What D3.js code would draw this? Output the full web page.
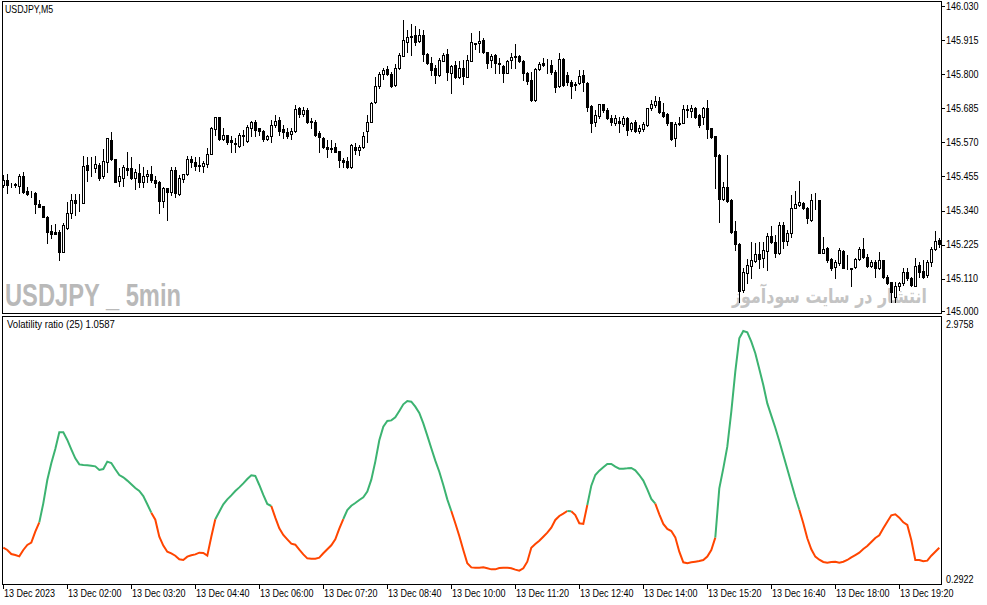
<!DOCTYPE html>
<html>
<head>
<meta charset="utf-8">
<script src="https://cdn.jsdelivr.net/npm/d3@7"></script>
<style>
  body { margin: 0; background: #fff; }
  svg { display: block; }
</style>
</head>
<body>
<svg id="chart"></svg>
<script>
// USDJPY M5 candles, 13 Dec 2023 00:40 .. 20:10
const open = [
  145.427, 145.443, 145.427, 145.426, 145.424, 145.455, 145.406, 145.396, 145.401, 145.362,
  145.356, 145.319, 145.271, 145.268, 145.269, 145.202, 145.280, 145.331, 145.376, 145.369,
  145.367, 145.494, 145.482, 145.483, 145.494, 145.455, 145.505, 145.578, 145.514, 145.440,
  145.451, 145.485, 145.485, 145.449, 145.468, 145.438, 145.455, 145.464, 145.443, 145.438,
  145.374, 145.415, 145.402, 145.477, 145.396, 145.446, 145.464, 145.514, 145.505, 145.493,
  145.492, 145.497, 145.531, 145.614, 145.655, 145.580, 145.595, 145.578, 145.569, 145.559,
  145.592, 145.575, 145.620, 145.638, 145.618, 145.610, 145.582, 145.590, 145.627, 145.646,
  145.616, 145.604, 145.598, 145.607, 145.685, 145.665, 145.680, 145.643, 145.640, 145.601,
  145.586, 145.553, 145.549, 145.553, 145.541, 145.511, 145.508, 145.488, 145.554, 145.545,
  145.553, 145.607, 145.640, 145.705, 145.761, 145.800, 145.817, 145.801, 145.762, 145.820,
  145.863, 145.910, 145.926, 145.933, 145.913, 145.933, 145.867, 145.837, 145.822, 145.798,
  145.846, 145.867, 145.803, 145.831, 145.789, 145.822, 145.792, 145.846, 145.904, 145.904,
  145.915, 145.874, 145.848, 145.865, 145.837, 145.828, 145.805, 145.847, 145.859, 145.861,
  145.845, 145.803, 145.780, 145.713, 145.818, 145.837, 145.830, 145.831, 145.809, 145.760,
  145.851, 145.797, 145.775, 145.765, 145.771, 145.797, 145.771, 145.693, 145.638, 145.660,
  145.698, 145.679, 145.651, 145.637, 145.643, 145.631, 145.651, 145.614, 145.640, 145.609,
  145.614, 145.629, 145.685, 145.696, 145.710, 145.671, 145.665, 145.638, 145.584, 145.631,
  145.637, 145.679, 145.676, 145.685, 145.662, 145.657, 145.685, 145.618, 145.592, 145.528,
  145.378, 145.421, 145.376, 145.271, 145.226, 145.072, 145.129, 145.154, 145.171, 145.193,
  145.179, 145.205, 145.254, 145.235, 145.198, 145.292, 145.239, 145.263, 145.350, 145.359,
  145.365, 145.350, 145.308, 145.373, 145.376, 145.198, 145.213, 145.176, 145.149, 145.162,
  145.205, 145.145, 145.145, 145.151, 145.177, 145.209, 145.185, 145.154, 145.168, 145.145,
  145.174, 145.117, 145.100, 145.050, 145.084, 145.095, 145.132, 145.112, 145.087, 145.157,
  145.136, 145.123, 145.168, 145.211, 145.241
];
const high = [
  145.460, 145.462, 145.432, 145.432, 145.462, 145.469, 145.421, 145.406, 145.404, 145.376,
  145.356, 145.323, 145.292, 145.294, 145.275, 145.297, 145.370, 145.395, 145.395, 145.395,
  145.524, 145.522, 145.522, 145.524, 145.500, 145.548, 145.586, 145.604, 145.514, 145.483,
  145.494, 145.537, 145.521, 145.480, 145.496, 145.488, 145.477, 145.491, 145.455, 145.440,
  145.420, 145.415, 145.488, 145.488, 145.460, 145.464, 145.524, 145.525, 145.521, 145.522,
  145.507, 145.550, 145.623, 145.655, 145.655, 145.618, 145.595, 145.590, 145.584, 145.601,
  145.612, 145.629, 145.643, 145.646, 145.618, 145.612, 145.595, 145.646, 145.663, 145.657,
  145.629, 145.618, 145.618, 145.696, 145.690, 145.691, 145.685, 145.651, 145.646, 145.609,
  145.587, 145.578, 145.578, 145.567, 145.541, 145.517, 145.522, 145.564, 145.567, 145.562,
  145.604, 145.663, 145.705, 145.792, 145.807, 145.820, 145.826, 145.807, 145.834, 145.871,
  145.983, 145.949, 145.969, 145.961, 145.953, 145.949, 145.871, 145.859, 145.831, 145.854,
  145.871, 145.885, 145.831, 145.843, 145.843, 145.848, 145.865, 145.938, 145.905, 145.946,
  145.921, 145.876, 145.867, 145.867, 145.856, 145.831, 145.848, 145.870, 145.901, 145.865,
  145.848, 145.809, 145.809, 145.822, 145.840, 145.854, 145.850, 145.848, 145.814, 145.870,
  145.854, 145.809, 145.780, 145.775, 145.814, 145.814, 145.775, 145.696, 145.679, 145.700,
  145.700, 145.685, 145.662, 145.662, 145.657, 145.660, 145.657, 145.640, 145.646, 145.629,
  145.640, 145.687, 145.713, 145.727, 145.724, 145.702, 145.670, 145.640, 145.640, 145.657,
  145.696, 145.696, 145.696, 145.691, 145.665, 145.691, 145.713, 145.620, 145.593, 145.530,
  145.438, 145.528, 145.378, 145.305, 145.230, 145.148, 145.177, 145.235, 145.230, 145.235,
  145.235, 145.263, 145.289, 145.258, 145.303, 145.303, 145.275, 145.393, 145.406, 145.440,
  145.370, 145.353, 145.395, 145.398, 145.376, 145.252, 145.218, 145.181, 145.174, 145.213,
  145.207, 145.190, 145.148, 145.181, 145.218, 145.247, 145.193, 145.174, 145.174, 145.202,
  145.174, 145.123, 145.100, 145.100, 145.100, 145.148, 145.145, 145.117, 145.179, 145.168,
  145.174, 145.174, 145.218, 145.271, 145.247
];
const low = [
  145.421, 145.398, 145.421, 145.418, 145.398, 145.398, 145.393, 145.387, 145.331, 145.351,
  145.320, 145.230, 145.249, 145.261, 145.174, 145.201, 145.279, 145.314, 145.325, 145.337,
  145.366, 145.440, 145.455, 145.471, 145.443, 145.451, 145.471, 145.511, 145.436, 145.424,
  145.424, 145.460, 145.447, 145.413, 145.421, 145.418, 145.436, 145.436, 145.421, 145.331,
  145.353, 145.308, 145.393, 145.387, 145.393, 145.438, 145.460, 145.488, 145.477, 145.474,
  145.471, 145.488, 145.530, 145.595, 145.578, 145.578, 145.564, 145.539, 145.539, 145.556,
  145.562, 145.573, 145.593, 145.593, 145.595, 145.576, 145.578, 145.573, 145.623, 145.595,
  145.584, 145.584, 145.581, 145.604, 145.654, 145.660, 145.635, 145.618, 145.593, 145.539,
  145.550, 145.522, 145.539, 145.537, 145.488, 145.488, 145.485, 145.483, 145.530, 145.528,
  145.550, 145.571, 145.638, 145.704, 145.755, 145.784, 145.798, 145.758, 145.759, 145.818,
  145.863, 145.876, 145.865, 145.897, 145.910, 145.845, 145.835, 145.798, 145.770, 145.795,
  145.843, 145.781, 145.736, 145.786, 145.786, 145.766, 145.789, 145.845, 145.885, 145.876,
  145.870, 145.822, 145.825, 145.803, 145.803, 145.775, 145.803, 145.820, 145.822, 145.840,
  145.780, 145.766, 145.710, 145.711, 145.814, 145.828, 145.803, 145.800, 145.741, 145.758,
  145.760, 145.764, 145.721, 145.747, 145.766, 145.743, 145.676, 145.606, 145.625, 145.651,
  145.671, 145.648, 145.629, 145.629, 145.604, 145.626, 145.595, 145.609, 145.604, 145.601,
  145.609, 145.626, 145.679, 145.691, 145.668, 145.657, 145.629, 145.578, 145.559, 145.629,
  145.634, 145.657, 145.657, 145.653, 145.623, 145.631, 145.584, 145.586, 145.415, 145.303,
  145.376, 145.370, 145.263, 145.207, 145.033, 145.067, 145.095, 145.112, 145.168, 145.145,
  145.151, 145.140, 145.230, 145.185, 145.193, 145.213, 145.224, 145.252, 145.348, 145.356,
  145.346, 145.297, 145.305, 145.346, 145.196, 145.196, 145.168, 145.140, 145.114, 145.157,
  145.145, 145.143, 145.087, 145.145, 145.174, 145.179, 145.151, 145.151, 145.117, 145.142,
  145.114, 145.091, 145.031, 145.033, 145.072, 145.089, 145.106, 145.084, 145.084, 145.117,
  145.114, 145.117, 145.154, 145.207, 145.218
];
const close = [
  145.443, 145.427, 145.426, 145.428, 145.455, 145.404, 145.395, 145.397, 145.361, 145.353,
  145.320, 145.269, 145.262, 145.262, 145.202, 145.292, 145.331, 145.376, 145.367, 145.370,
  145.491, 145.477, 145.485, 145.496, 145.449, 145.507, 145.584, 145.513, 145.438, 145.455,
  145.488, 145.477, 145.449, 145.471, 145.438, 145.458, 145.464, 145.443, 145.434, 145.374,
  145.415, 145.402, 145.477, 145.398, 145.449, 145.462, 145.514, 145.503, 145.492, 145.490,
  145.501, 145.532, 145.620, 145.655, 145.582, 145.595, 145.573, 145.570, 145.565, 145.595,
  145.595, 145.621, 145.638, 145.612, 145.610, 145.582, 145.592, 145.629, 145.643, 145.610,
  145.604, 145.593, 145.607, 145.682, 145.665, 145.680, 145.640, 145.638, 145.595, 145.587,
  145.553, 145.547, 145.550, 145.539, 145.509, 145.505, 145.488, 145.562, 145.545, 145.555,
  145.590, 145.640, 145.702, 145.761, 145.800, 145.815, 145.800, 145.761, 145.820, 145.865,
  145.916, 145.927, 145.929, 145.910, 145.933, 145.867, 145.837, 145.815, 145.798, 145.848,
  145.865, 145.809, 145.828, 145.789, 145.820, 145.795, 145.848, 145.908, 145.901, 145.913,
  145.874, 145.837, 145.861, 145.837, 145.835, 145.803, 145.845, 145.859, 145.861, 145.845,
  145.803, 145.777, 145.713, 145.818, 145.834, 145.831, 145.831, 145.806, 145.758, 145.850,
  145.764, 145.773, 145.761, 145.767, 145.795, 145.773, 145.691, 145.634, 145.662, 145.698,
  145.679, 145.651, 145.640, 145.651, 145.634, 145.653, 145.612, 145.634, 145.609, 145.617,
  145.631, 145.685, 145.700, 145.711, 145.671, 145.660, 145.634, 145.582, 145.631, 145.634,
  145.682, 145.682, 145.687, 145.657, 145.629, 145.687, 145.615, 145.587, 145.525, 145.378,
  145.421, 145.373, 145.269, 145.226, 145.069, 145.132, 145.157, 145.174, 145.193, 145.177,
  145.207, 145.254, 145.235, 145.198, 145.292, 145.239, 145.263, 145.348, 145.361, 145.368,
  145.348, 145.314, 145.375, 145.371, 145.198, 145.209, 145.174, 145.145, 145.165, 145.207,
  145.145, 145.147, 145.143, 145.177, 145.211, 145.185, 145.154, 145.168, 145.145, 145.174,
  145.117, 145.095, 145.067, 145.084, 145.097, 145.134, 145.112, 145.089, 145.153, 145.134,
  145.117, 145.168, 145.211, 145.239, 145.226
];

// Volatility ratio (25), one value per candle
const volRatio = [
  0.611, 0.587, 0.545, 0.534, 0.520, 0.587, 0.640, 0.664, 0.780, 0.878,
  1.078, 1.324, 1.499, 1.650, 1.825, 1.825, 1.745, 1.646, 1.552, 1.488,
  1.481, 1.478, 1.474, 1.467, 1.429, 1.439, 1.517, 1.502, 1.436, 1.376,
  1.352, 1.317, 1.278, 1.239, 1.208, 1.155, 1.068, 0.980, 0.906, 0.727,
  0.633, 0.569, 0.552, 0.527, 0.489, 0.482, 0.517, 0.531, 0.541, 0.559,
  0.555, 0.527, 0.727, 0.910, 0.990, 1.068, 1.120, 1.162, 1.208, 1.246,
  1.288, 1.334, 1.373, 1.366, 1.271, 1.166, 1.071, 1.050, 0.927, 0.815,
  0.745, 0.699, 0.654, 0.643, 0.590, 0.541, 0.499, 0.496, 0.496, 0.506,
  0.552, 0.594, 0.636, 0.699, 0.811, 0.913, 1.008, 1.053, 1.081, 1.113,
  1.141, 1.201, 1.327, 1.517, 1.741, 1.885, 1.944, 1.951, 1.983, 2.050,
  2.120, 2.155, 2.148, 2.095, 2.029, 1.920, 1.790, 1.657, 1.527, 1.411,
  1.271, 1.120, 0.997, 0.868, 0.734, 0.587, 0.447, 0.404, 0.401, 0.401,
  0.404, 0.394, 0.383, 0.383, 0.397, 0.401, 0.401, 0.394, 0.380, 0.369,
  0.394, 0.464, 0.611, 0.650, 0.685, 0.727, 0.769, 0.822, 0.903, 0.945,
  0.969, 0.997, 0.994, 0.955, 0.868, 0.861, 1.060, 1.264, 1.376, 1.422,
  1.457, 1.492, 1.492, 1.464, 1.443, 1.443, 1.446, 1.450, 1.425, 1.376,
  1.317, 1.225, 1.124, 1.075, 0.962, 0.861, 0.808, 0.787, 0.720, 0.569,
  0.457, 0.447, 0.457, 0.464, 0.471, 0.482, 0.517, 0.587, 0.717, 1.236,
  1.446, 1.674, 2.043, 2.464, 2.814, 2.892, 2.878, 2.779, 2.657, 2.492,
  2.323, 2.130, 2.001, 1.874, 1.734, 1.587, 1.439, 1.292, 1.145, 1.011,
  0.868, 0.710, 0.594, 0.517, 0.485, 0.461, 0.454, 0.461, 0.464, 0.454,
  0.464, 0.482, 0.510, 0.534, 0.559, 0.597, 0.629, 0.671, 0.713, 0.741,
  0.815, 0.885, 0.952, 0.962, 0.927, 0.878, 0.850, 0.692, 0.482, 0.482,
  0.468, 0.475, 0.527, 0.569, 0.611
];
// candle index ranges where the ratio line is drawn green
const greenRuns = [[9, 37], [53, 67], [85, 112], [141, 142], [146, 163], [178, 199]];

const priceTicks = [146.030, 145.915, 145.800, 145.685, 145.570, 145.455, 145.340, 145.225, 145.110, 145.000];
const ratioTicks = [2.9758, 0.2922];
const timeIdx = [0, 16, 32, 48, 64, 80, 96, 112, 128, 144, 160, 176, 192, 208, 224];
const timeLabels = ['13 Dec 2023', '13 Dec 02:00', '13 Dec 03:20', '13 Dec 04:40', '13 Dec 06:00',
  '13 Dec 07:20', '13 Dec 08:40', '13 Dec 10:00', '13 Dec 11:20', '13 Dec 12:40',
  '13 Dec 14:00', '13 Dec 15:20', '13 Dec 16:40', '13 Dec 18:00', '13 Dec 19:20'];

const W = 987, H = 605;
const FONT = '"Liberation Sans", Arial, sans-serif';
const left = 2, right = 941;
const main = {top: 1.5, bottom: 313.5};
const sub = {top: 316, bottom: 584};

// MT4 labels are narrower than Arial, squeeze them a bit
const squeeze = (px, py, s = 0.82) => `translate(${px},${py}) scale(${s},1)`;

const svg = d3.select('#chart')
.attr('width', W)
.attr('height', H)
.style('font-family', FONT);

svg.append('rect').attr('width', W).attr('height', H).attr('fill', '#fff');

const x = d3.scaleLinear().domain([0, open.length - 1]).range([3.3, 939.3]);
const col = i => Math.floor(x(i));
const y = d3.scaleLinear().domain([145.0, 146.03]).range([311.4, 6]);
const yr = d3.scaleLinear().domain([0.2922, 2.9758]).range([578, 323]);

// watermarks sit under the candles; scaled to fit their box
const fitText = (t, px, py, w) => {
  const natural = t.node().getComputedTextLength();
  t.attr('transform', squeeze(px, py, w / natural));
};

const mark1 = svg.append('text')
.style('font-size', '32px').style('font-weight', 'bold')
.style('fill', '#b9b9b9')
.text('USDJPY _ 5min');
fitText(mark1, 5, 306, 176);

const mark2 = svg.append('text')
.style('font-family', '"DejaVu Sans", sans-serif')
.style('font-size', '20px').style('font-weight', 'bold')
.style('fill', '#c4c4c4')
.text('انتشار در سایت سودآموز');
fitText(mark2, 732, 303, 195);

// pane frames
svg.append('rect')
.attr('x', left + 0.5).attr('y', main.top)
.attr('width', right - left).attr('height', main.bottom - main.top)
.attr('fill', 'none').attr('stroke', '#000');
svg.append('rect')
.attr('x', left + 0.5).attr('y', sub.top + 0.5)
.attr('width', right - left).attr('height', sub.bottom - sub.top)
.attr('fill', 'none').attr('stroke', '#000');

const idx = d3.range(open.length);
const candles = svg.append('g').attr('shape-rendering', 'crispEdges');

candles.selectAll('line.wick')
.data(idx)
.enter()
.append('line')
.attr('class', 'wick')
.attr('x1', i => col(i) + 0.5).attr('x2', i => col(i) + 0.5)
.attr('y1', i => Math.round(y(high[i])))
.attr('y2', i => Math.round(y(low[i])) + 1)
.attr('stroke', '#000');

candles.selectAll('rect.body')
.data(idx)
.enter()
.append('rect')
.attr('class', 'body')
.attr('x', i => col(i) - 0.5)
.attr('y', i => Math.round(y(Math.max(open[i], close[i]))) + 0.5)
.attr('width', 2)
.attr('height', i => Math.max(0, Math.round(y(Math.min(open[i], close[i]))) - Math.round(y(Math.max(open[i], close[i])))))
.attr('fill', i => close[i] >= open[i] ? '#fff' : '#000')
.attr('stroke', '#000');

// price axis
svg.selectAll('line.ptick')
.data(priceTicks)
.enter()
.append('line')
.attr('x1', right).attr('x2', right + 4)
.attr('y1', d => Math.round(y(d)) + 0.5).attr('y2', d => Math.round(y(d)) + 0.5)
.attr('stroke', '#000');

svg.selectAll('text.plabel')
.data(priceTicks)
.enter()
.append('text')
.attr('transform', d => squeeze(right + 5, y(d) + 3.5))
.style('font-size', '11px')
.text(d => d.toFixed(3));

svg.selectAll('text.rlabel')
.data(ratioTicks)
.enter()
.append('text')
.attr('transform', d => squeeze(right + 5, yr(d) + 4.5))
.style('font-size', '11px')
.text(d => d.toFixed(4));

// ratio line, split into coloured runs
const isGreen = i => greenRuns.some(r => i >= r[0] && i + 1 <= r[1]);
const runs = [];
idx.slice(0, -1).forEach(i => {
  const c = isGreen(i) ? '#3cb371' : '#ff4500';
  const last = runs[runs.length - 1];
  if (last && last.color === c) last.pts.push(i + 1);
  else runs.push({color: c, pts: [i, i + 1]});
});

const line = d3.line().x(i => x(i)).y(i => yr(volRatio[i]));
svg.selectAll('path.ratio')
.data(runs)
.enter()
.append('path')
.attr('d', r => line(r.pts))
.attr('fill', 'none')
.attr('stroke', r => r.color)
.attr('stroke-width', 2);

svg.append('text')
.attr('transform', squeeze(7, 328, 0.87))
.style('font-size', '11px')
.text('Volatility ratio (25) 1.0587');

svg.append('text')
.attr('transform', squeeze(5, 13, 0.8))
.style('font-size', '11px')
.text('USDJPY,M5');

// time axis
svg.selectAll('line.ttick')
.data(timeIdx)
.enter()
.append('line')
.attr('x1', i => col(i) + 0.5).attr('x2', i => col(i) + 0.5)
.attr('y1', sub.bottom).attr('y2', sub.bottom + 5)
.attr('stroke', '#000');

svg.selectAll('text.tlabel')
.data(timeIdx)
.enter()
.append('text')
.attr('transform', i => squeeze(col(i) + 1, 597))
.style('font-size', '11px')
.text((i, k) => timeLabels[k]);
</script>
</body>
</html>
